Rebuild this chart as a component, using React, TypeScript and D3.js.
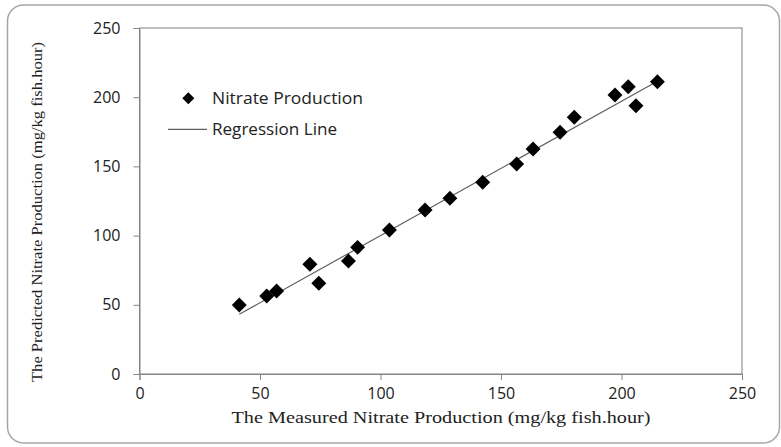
import React, { useEffect, useRef } from "react";
import * as d3 from "d3";

// measured vs predicted nitrate production (mg/kg fish.hour)
const measured = [41.4, 52.8, 56.9, 70.7, 74.4, 86.7, 90.5, 103.7, 118.5, 128.8, 142.4, 156.5, 163.3, 174.5, 180.4, 197.3, 202.8, 206, 214.9];
const predicted = [49.9, 56.4, 60, 79.3, 65.5, 81.6, 91.5, 104, 118.5, 127, 138.5, 151.7, 162.6, 174.6, 185.5, 201.6, 207.6, 193.9, 211.2];
const regSlope = 0.971;
const regIntercept = 2.9;
const tickValues = [0, 50, 100, 150, 200, 250];
const legendLabels = ["Nitrate Production", "Regression Line"];
const legendWidths = [151, 125];

const App = () => {
  const chartRef = useRef(null);

  useEffect(() => {
    const width = 781;
    const height = 447;
    const left = 139.5;
    const right = 742;
    const top = 28;
    const bottom = 374;

    const svg = d3.select(chartRef.current).attr("width", width).attr("height", height);

    // outer frame
    svg
      .append("rect")
      .attr("x", 7.5)
      .attr("y", 5)
      .attr("width", 772)
      .attr("height", 438)
      .attr("rx", 16)
      .attr("fill", "white")
      .attr("stroke", "#a6a6a6")
      .attr("stroke-width", 1.5);

    const x = d3.scaleLinear().domain([0, 250]).range([left, right]);
    const y = d3.scaleLinear().domain([0, 250]).range([bottom, top]);

    // plot area border
    svg
      .append("rect")
      .attr("x", left)
      .attr("y", top)
      .attr("width", right - left)
      .attr("height", bottom - top)
      .attr("fill", "none")
      .attr("stroke", "#7f7f7f")
      .attr("stroke-width", 1);

    const xAxis = svg
      .append("g")
      .attr("transform", `translate(0, ${bottom})`)
      .call(d3.axisBottom(x).tickValues(tickValues).tickSize(6).tickPadding(8));

    const yAxis = svg
      .append("g")
      .attr("transform", `translate(${left}, 0)`)
      .call(d3.axisLeft(y).tickValues(tickValues).tickSize(6).tickPadding(13));

    xAxis.selectAll("path, line").attr("stroke", "#868686");
    yAxis.selectAll("path, line").attr("stroke", "#868686");
    [xAxis, yAxis].forEach((ax) =>
      ax
        .selectAll("text")
        .style("font-family", "'Open Sans', sans-serif")
        .style("font-size", "16px")
        .attr("fill", "#222")
    );

    // regression line
    const [xMin, xMax] = d3.extent(measured);
    svg
      .append("path")
      .attr(
        "d",
        d3.line()([
          [x(xMin), y(regSlope * xMin + regIntercept)],
          [x(xMax), y(regSlope * xMax + regIntercept)],
        ])
      )
      .attr("stroke", "#606060")
      .attr("stroke-width", 1.2)
      .attr("fill", "none");

    const diamond = d3.symbol(d3.symbolSquare, 112);
    svg
      .selectAll(".pt")
      .data(measured)
      .enter()
      .append("path")
      .attr("class", "pt")
      .attr("d", diamond)
      .attr("transform", (d, i) => `translate(${x(d)}, ${y(predicted[i])}) rotate(45)`)
      .attr("fill", "black");

    // legend
    svg
      .append("path")
      .attr("d", d3.symbol(d3.symbolSquare, 72)())
      .attr("transform", "translate(188.3, 98.3) rotate(45)")
      .attr("fill", "black");
    svg
      .append("line")
      .attr("x1", 168)
      .attr("x2", 207)
      .attr("y1", 129.3)
      .attr("y2", 129.3)
      .attr("stroke", "#606060")
      .attr("stroke-width", 1.2);
    svg
      .selectAll(".leg")
      .data(legendLabels)
      .enter()
      .append("text")
      .attr("class", "leg")
      .attr("x", 212)
      .attr("y", (d, i) => 98.5 + i * 31)
      .attr("dy", "0.35em")
      .attr("textLength", (d, i) => legendWidths[i])
      .attr("lengthAdjust", "spacingAndGlyphs")
      .style("font-family", "'Open Sans', sans-serif")
      .style("font-size", "16px")
      .attr("fill", "#222")
      .text((d) => d);

    // axis titles
    svg
      .append("text")
      .attr("x", 441)
      .attr("y", 423)
      .attr("text-anchor", "middle")
      .attr("textLength", 419)
      .attr("lengthAdjust", "spacingAndGlyphs")
      .style("font-family", "'Liberation Serif', serif")
      .style("font-size", "16.5px")
      .attr("fill", "#222")
      .text("The Measured Nitrate Production (mg/kg fish.hour)");

    svg
      .append("text")
      .attr("transform", "translate(42, 212) rotate(-90)")
      .attr("text-anchor", "middle")
      .attr("textLength", 340)
      .attr("lengthAdjust", "spacingAndGlyphs")
      .style("font-family", "'Liberation Serif', serif")
      .style("font-size", "14px")
      .attr("fill", "#222")
      .text("The Predicted Nitrate Production (mg/kg fish.hour)");

    return () => {
      d3.select(chartRef.current).selectAll("*").remove();
    };
  }, []);

  return <svg ref={chartRef} style={{ position: "absolute", left: 0, top: 0 }}></svg>;
};

export default App;
